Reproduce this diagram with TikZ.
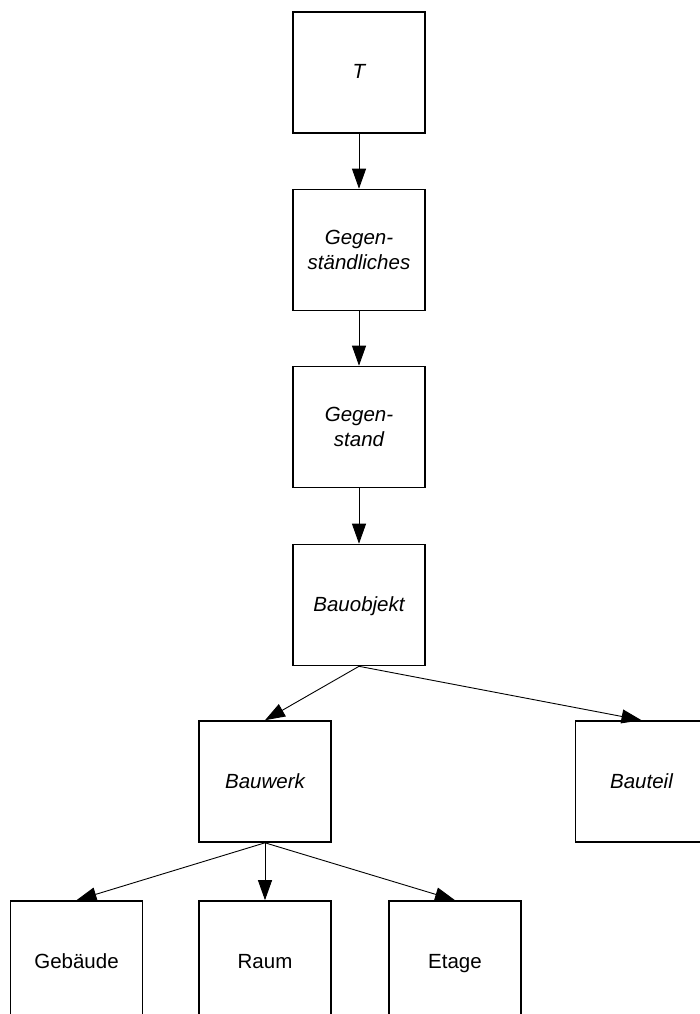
\documentclass[tikz,border=0pt]{standalone}
\usepackage{fontspec}
\setmainfont{Liberation Sans}
\usetikzlibrary{arrows.meta}
\begin{document}
\begin{tikzpicture}[x=1pt,y=-1pt,
  box/.style={draw, line width=1.6pt, minimum width=132pt, minimum height=121pt,
    inner sep=0pt, align=center, font=\fontsize{20.5}{25}\selectfont},
  it/.style={box, font=\fontsize{20.5}{25}\selectfont\itshape},
  oneline/.style={text height=15pt, text depth=2pt},
  link/.style={line width=0.9pt, -{Triangle[length=20pt,width=14pt]}}]
  \useasboundingbox (0,0) rectangle (700,1014);
  \node[it, oneline] (t) at (359,72.5) {T};
  \node[it] (gl) at (359,250) {Gegen-\\ständliches};
  \node[it] (gs) at (359,427) {Gegen-\\stand};
  \node[it, oneline] (bo) at (359,605) {Bauobjekt};
  \node[it, oneline] (bw) at (265,781.5) {Bauwerk};
  \node[it, oneline] (bt) at (641.5,781.5) {Bauteil};
  \node[box, oneline] (gb) at (76.5,961.5) {Gebäude};
  \node[box, oneline] (ra) at (265,961.5) {Raum};
  \node[box, oneline] (et) at (455,961.5) {Etage};
  \draw[link] (t.south) -- (gl.north);
  \draw[link] (gl.south) -- (gs.north);
  \draw[link] (gs.south) -- (bo.north);
  \draw[link] (bo.south) -- (bw.north);
  \draw[link] (bo.south) -- (bt.north);
  \draw[link] (bw.south) -- (gb.north);
  \draw[link] (bw.south) -- (ra.north);
  \draw[link] (bw.south) -- (et.north);
\end{tikzpicture}
\end{document}
